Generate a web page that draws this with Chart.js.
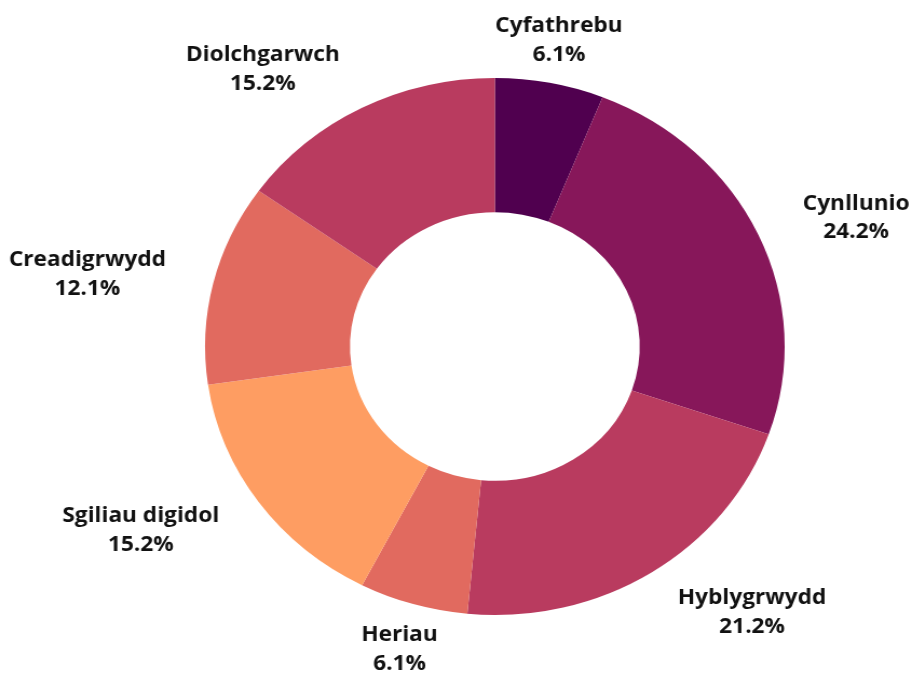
<!DOCTYPE html>
<html>
<head>
<meta charset="utf-8">
<script src="https://cdn.jsdelivr.net/npm/chart.js@4/dist/chart.umd.min.js"></script>
<style>
  html, body { margin: 0; padding: 0; background: #fff; overflow: hidden; }
  #chart { display: block; transform: scaleX(1.0793); transform-origin: 0 0; }
</style>
</head>
<body>
<canvas id="chart" width="845" height="673"></canvas>
<script>
// survey answers (counts out of 33)
const categories = ['Cyfathrebu', 'Cynllunio', 'Hyblygrwydd', 'Heriau', 'Sgiliau digidol', 'Creadigrwydd', 'Diolchgarwch'];
const counts = [2, 8, 7, 2, 5, 4, 5];
const colours = ['#50004f', '#87175a', '#b93b5f', '#e16a5f', '#fe9d62', '#e16a5f', '#b93b5f'];

const total = counts.reduce((a, b) => a + b, 0);

// outside labels: name + percentage, aligned away from the ring
const outsideLabels = {
    id: 'outsideLabels',
    afterDatasetsDraw(chart) {
        const ctx = chart.ctx;
        const arcs = chart.getDatasetMeta(0).data;
        ctx.save();
        ctx.font = 'bold 21px "Open Sans"';
        ctx.fillStyle = '#111';
        ctx.textBaseline = 'middle';
        ctx.textAlign = 'center';
        arcs.forEach(function (arc, i) {
            const p = arc.getProps(['x', 'y', 'startAngle', 'endAngle', 'outerRadius'], true);
            const mid = (p.startAngle + p.endAngle) / 2;
            const r = p.outerRadius * 1.168;
            const cx = Math.cos(mid), cy = Math.sin(mid);
            const ax = p.x + cx * r;
            const ay = p.y + cy * r + 2;
            const lines = [categories[i], (counts[i] / total * 100).toFixed(1) + '%'];
            const w = Math.max.apply(null, lines.map(l => ctx.measureText(l).width));
            let bx = ax;
            if (cx > 0.35) bx = ax + w / 2;
            else if (cx < -0.35) bx = ax - w / 2;
            ctx.fillText(lines[0], bx, ay - 14.25);
            ctx.fillText(lines[1], bx, ay + 14.25);
        });
        ctx.restore();
    }
};

new Chart(document.getElementById('chart'), {
    type: 'doughnut',
    data: {
        labels: categories,
        datasets: [{
            data: counts,
            backgroundColor: colours,
            borderWidth: 0
        }]
    },
    options: {
        responsive: false,
        animation: false,
        cutout: '50%',
        layout: { padding: { top: 78, bottom: 58, left: 190, right: 118 } },
        plugins: {
            legend: { display: false },
            tooltip: { enabled: false }
        }
    },
    plugins: [outsideLabels]
});
</script>
</body>
</html>
